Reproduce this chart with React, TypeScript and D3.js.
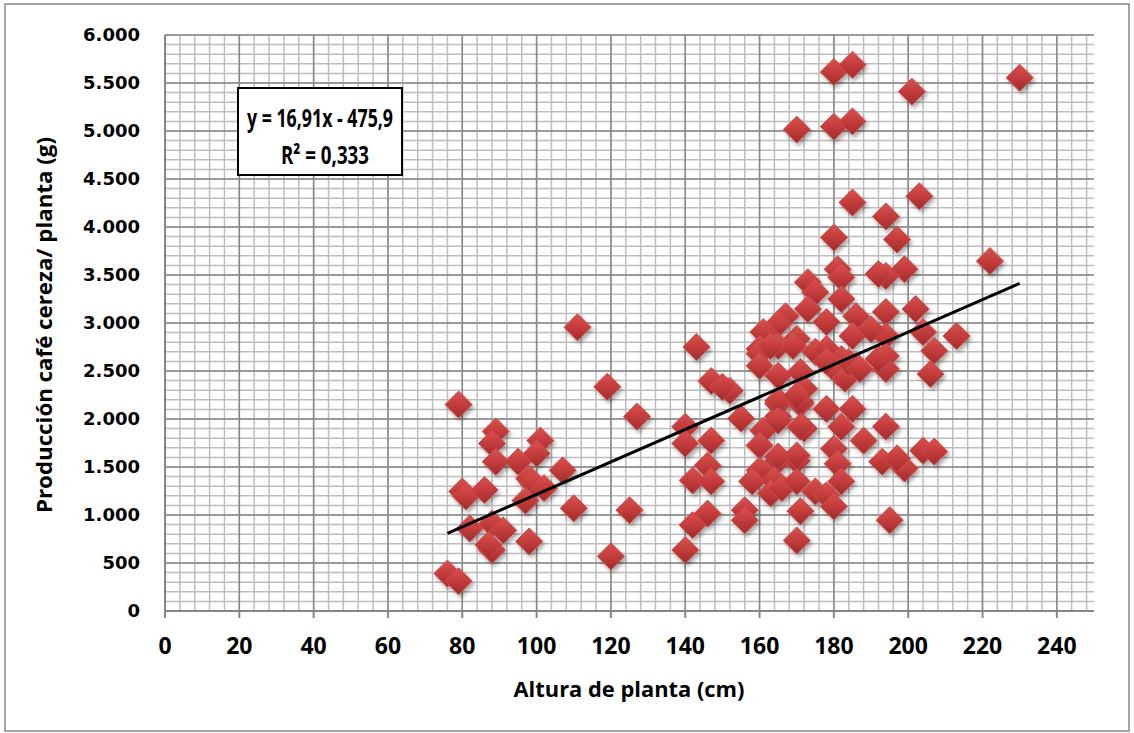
import React from 'react';
import * as d3 from 'd3';

// altura de planta (cm) y producción café cereza por planta (g)
const alturaCm = [
  76, 79, 79, 80, 81, 86, 82, 88, 91, 88, 87, 89, 88, 89, 95, 101, 100, 98, 99, 102,
  97, 107, 110, 120, 125, 127, 119, 98, 111, 140, 140, 147, 146, 142, 147, 146, 142, 140, 143, 147,
  152, 155, 156, 156, 161, 160, 165, 165, 171, 172, 170, 165, 160, 158, 164, 163, 166, 170, 175, 178,
  180, 171, 170, 178, 185, 182, 180, 181, 182, 188, 194, 193, 199, 197, 204, 207, 195, 180, 185, 201,
  230, 170, 180, 185, 185, 203, 194, 180, 197, 222, 202, 204, 213, 207, 206, 199, 194, 194, 194, 194,
  194, 181, 182, 192, 173, 175, 182, 173, 178, 167, 165, 161, 170, 186, 185, 190, 165, 160, 160, 160,
  175, 178, 182, 186, 192, 165, 171, 181, 183, 165, 171, 172, 165, 171, 165, 170, 150, 169, 170, 184,
  187, 178, 163,
];
const produccionG = [
  390, 310, 2150, 1245, 1195, 1260, 860, 910, 840, 635, 690, 1870, 1745, 1555, 1555, 1775, 1640, 1380, 1330, 1280,
  1150, 1465, 1070, 570, 1050, 2025, 2335, 725, 2955, 1920, 1745, 1775, 1515, 1360, 1350, 1015, 895, 635, 2750, 2395,
  2295, 2005, 1050, 945, 1880, 1725, 2025, 2160, 2160, 1900, 1565, 1565, 1465, 1350, 1360, 1225, 1280, 1350, 1245, 1205,
  1090, 1040, 735, 2105, 2105, 1920, 1690, 1535, 1350, 1775, 1920, 1555, 1485, 1590, 1670, 1660, 945, 5615, 5690, 5410,
  5555, 5015, 5045, 5100, 4255, 4320, 4110, 3890, 3870, 3645, 3145, 2905, 2865, 2710, 2470, 3560, 3490, 3115, 2865, 2655,
  2520, 3560, 3475, 3510, 3425, 3320, 3250, 3145, 3010, 3070, 2990, 2905, 2835, 3070, 2865, 2935, 2760, 2730, 2680, 2555,
  2700, 2730, 2625, 2555, 2625, 2450, 2490, 2490, 2420, 2190, 2180, 2315, 1985, 1920, 1610, 1620, 2335, 2760, 2245, 2595,
  2520, 2600, 2760,
];

const xTicks = [0, 20, 40, 60, 80, 100, 120, 140, 160, 180, 200, 220, 240];
const yTicks = [0, 500, 1000, 1500, 2000, 2500, 3000, 3500, 4000, 4500, 5000, 5500, 6000];
const trendSlope = 16.91;
const trendIntercept = -475.9;
const trendRange = [76, 230];

const W = 1134;
const H = 733;
const margin = { top: 35, right: 40, bottom: 120, left: 165 };

const locale = d3.formatLocale({ decimal: ',', thousands: '.', grouping: [3], currency: ['', ''] });
const fmtY = locale.format(',d');

export default function App() {
  const x = d3.scaleLinear().domain([0, 250]).range([margin.left, W - margin.right]);
  const y = d3.scaleLinear().domain([0, 6000]).range([H - margin.bottom - 2, margin.top]);

  const minorX = d3.range(0, 250, 4);
  const minorY = d3.range(0, 6001, 100);
  const r = 13.5;

  const diamond = (cx: number, cy: number) => {
    const p = d3.path();
    p.moveTo(cx, cy - r);
    p.lineTo(cx + r, cy);
    p.lineTo(cx, cy + r);
    p.lineTo(cx - r, cy);
    p.closePath();
    return p.toString();
  };

  const trend = d3
    .line<number>()
    .x(d => x(d))
    .y(d => y(trendSlope * d + trendIntercept));

  const [x0, x1] = x.range();
  const [yb, yt] = y.range();
  const sans = "'Open Sans', sans-serif";

  return (
    <svg width={W} height={H} style={{ position: 'absolute', left: 0, top: 0, background: '#fff' }}>
      <defs>
        <linearGradient id="rojo" x1="0" y1="0" x2="0" y2="1">
          <stop offset="0%" stopColor="#d9524f" />
          <stop offset="50%" stopColor="#c43c3c" />
          <stop offset="100%" stopColor="#a12a2b" />
        </linearGradient>
        <filter id="sombra" x="-50%" y="-50%" width="200%" height="200%">
          <feDropShadow dx="2" dy="3" stdDeviation="2" floodColor="#000" floodOpacity="0.35" />
        </filter>
      </defs>
      <rect x={5} y={4} width={W - 10} height={H - 6} fill="#fff" stroke="#878787" strokeWidth={1.5} />

      {/* grid menor */}
      {minorX.map(v => (
        <line key={'mx' + v} x1={x(v)} x2={x(v)} y1={yb} y2={yt} stroke="#bdbdbd" strokeWidth={1.5} />
      ))}
      {minorY.map(v => (
        <line key={'my' + v} x1={x0} x2={x1} y1={y(v)} y2={y(v)} stroke="#bdbdbd" strokeWidth={1.5} />
      ))}
      {/* grid mayor */}
      {xTicks.map(v => (
        <line key={'gx' + v} x1={x(v)} x2={x(v)} y1={yb} y2={yt} stroke="#888" strokeWidth={1.5} />
      ))}
      {yTicks.map(v => (
        <line key={'gy' + v} x1={x0} x2={x1} y1={y(v)} y2={y(v)} stroke="#888" strokeWidth={1.5} />
      ))}

      {/* ejes */}
      <line x1={x0} x2={x1} y1={yb} y2={yb} stroke="#868686" strokeWidth={2} />
      <line x1={x0} x2={x0} y1={yb} y2={yt} stroke="#868686" strokeWidth={2} />
      {xTicks.map(v => (
        <line key={'tx' + v} x1={x(v)} x2={x(v)} y1={yb} y2={yb + 7} stroke="#868686" strokeWidth={2} />
      ))}

      {xTicks.map(v => (
        <text key={'lx' + v} x={x(v)} y={yb + 43} textAnchor="middle"
          fontFamily={sans} fontWeight={700} fontSize={23} fill="#000">{v}</text>
      ))}
      {yTicks.map(v => (
        <text key={'ly' + v} x={x0 - 25} y={y(v)} dy="0.36em" textAnchor="end"
          fontFamily="'DejaVu Sans', Verdana, sans-serif" fontWeight={700} fontSize={18} fill="#000">{fmtY(v)}</text>
      ))}

      {/* puntos */}
      <g filter="url(#sombra)">
        {alturaCm.map((a, i) => (
          <path key={i} d={diamond(x(a), y(produccionG[i]))} fill="url(#rojo)" stroke="#c94b4b" strokeWidth={1} />
        ))}
      </g>

      <path d={trend(trendRange) || ''} fill="none" stroke="#000" strokeWidth={3} />

      {/* ecuación */}
      <rect x={238} y={88} width={164} height={87} fill="#fff" stroke="#000" strokeWidth={2} />
      <text x={320} y={127} textAnchor="middle" fontFamily={sans} fontWeight={700} fontSize={25}
        textLength={146} lengthAdjust="spacingAndGlyphs">y = 16,91x - 475,9</text>
      <text x={325} y={164} textAnchor="middle" fontFamily={sans} fontWeight={700} fontSize={25}
        textLength={88} lengthAdjust="spacingAndGlyphs">R² = 0,333</text>

      {/* títulos */}
      <text x={629} y={697} textAnchor="middle" fontFamily={sans} fontWeight={700} fontSize={21}
        textLength={231} lengthAdjust="spacingAndGlyphs">Altura de planta (cm)</text>
      <text transform="translate(52,325) rotate(-90)" textAnchor="middle" fontFamily={sans}
        fontWeight={700} fontSize={21} textLength={376} lengthAdjust="spacingAndGlyphs">
        Producción café cereza/ planta (g)
      </text>
    </svg>
  );
}
